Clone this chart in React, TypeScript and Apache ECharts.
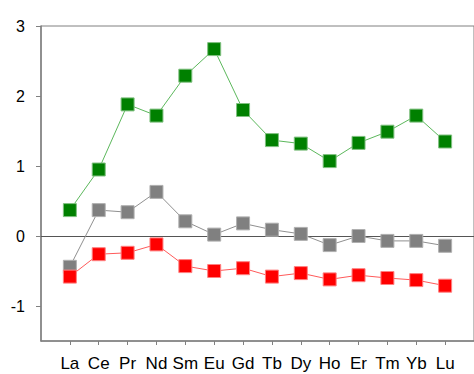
import React, { useEffect, useRef } from "react";
import * as echarts from "echarts";

const elements = ["La", "Ce", "Pr", "Nd", "Sm", "Eu", "Gd", "Tb", "Dy", "Ho", "Er", "Tm", "Yb", "Lu"];
const greenValues = [0.37, 0.95, 1.88, 1.72, 2.29, 2.67, 1.8, 1.37, 1.32, 1.07, 1.33, 1.49, 1.72, 1.35];
const grayValues = [-0.44, 0.37, 0.34, 0.63, 0.21, 0.02, 0.18, 0.09, 0.03, -0.13, 0.0, -0.07, -0.07, -0.14];
const redValues = [-0.58, -0.26, -0.24, -0.12, -0.43, -0.5, -0.46, -0.58, -0.53, -0.62, -0.56, -0.6, -0.63, -0.71];
const yTicks = [-1, 0, 1, 2, 3];

const toPairs = (vals: number[]) => vals.map((v, i) => [i + 1, v]);

export default function App() {
  const ref = useRef<HTMLDivElement>(null);
  useEffect(() => {
    if (!ref.current) return;
    const chart = echarts.init(ref.current, null, { renderer: "svg" });
    const xPositions = elements.map((_, i) => i + 1);
    const font = "Liberation Sans, Arial, sans-serif";
    const mkSeries = (name: string, vals: number[], fill: string, border: string, line: string, extra: any = {}) => ({
      name,
      type: "line",
      data: toPairs(vals),
      symbol: "rect",
      symbolSize: 13,
      lineStyle: { color: line, width: 1 },
      itemStyle: { color: fill, borderColor: border, borderWidth: 1 },
      z: 3,
      ...extra,
    });
    chart.setOption({
      animation: false,
      grid: {
        left: 41,
        top: 26,
        width: 436,
        bottom: 33,
        show: true,
        borderColor: "#808080",
        borderWidth: 1,
      },
      xAxis: {
        type: "value",
        min: 0,
        max: 15,
        splitLine: { show: false },
        axisLine: { onZero: false, lineStyle: { color: "#808080", width: 1.5 } },
        axisTick: { customValues: xPositions, length: 4, lineStyle: { color: "#808080" } },
        axisLabel: {
          customValues: xPositions,
          formatter: (v: number) => elements[Math.round(v) - 1] ?? "",
          color: "#000",
          fontSize: 17,
          fontFamily: font,
          margin: 14,
        },
      },
      yAxis: {
        type: "value",
        min: -1.5,
        max: 3,
        splitLine: { show: false },
        axisLine: { onZero: false, lineStyle: { color: "#808080", width: 1.5 } },
        axisTick: { customValues: yTicks, length: 5, lineStyle: { color: "#808080" } },
        axisLabel: {
          customValues: yTicks,
          color: "#000",
          fontSize: 16,
          fontFamily: font,
          margin: 16,
        },
      },
      series: [
        mkSeries("gray", grayValues, "#808080", "#b0b0b0", "#909090", {
          markLine: {
            silent: true,
            symbol: "none",
            label: { show: false },
            lineStyle: { color: "#555555", width: 1, type: "solid" },
            data: [{ yAxis: 0 }],
            z: 1,
          },
        }),
        mkSeries("red", redValues, "#ff0000", "#ff8080", "#ff5a5a"),
        mkSeries("green", greenValues, "#008000", "#80c080", "#5cb85c"),
      ],
    });
    return () => chart.dispose();
  }, []);
  return (
    <div
      ref={ref}
      style={{ position: "fixed", left: 0, top: 0, width: 474, height: 374, background: "#fff" }}
    />
  );
}
